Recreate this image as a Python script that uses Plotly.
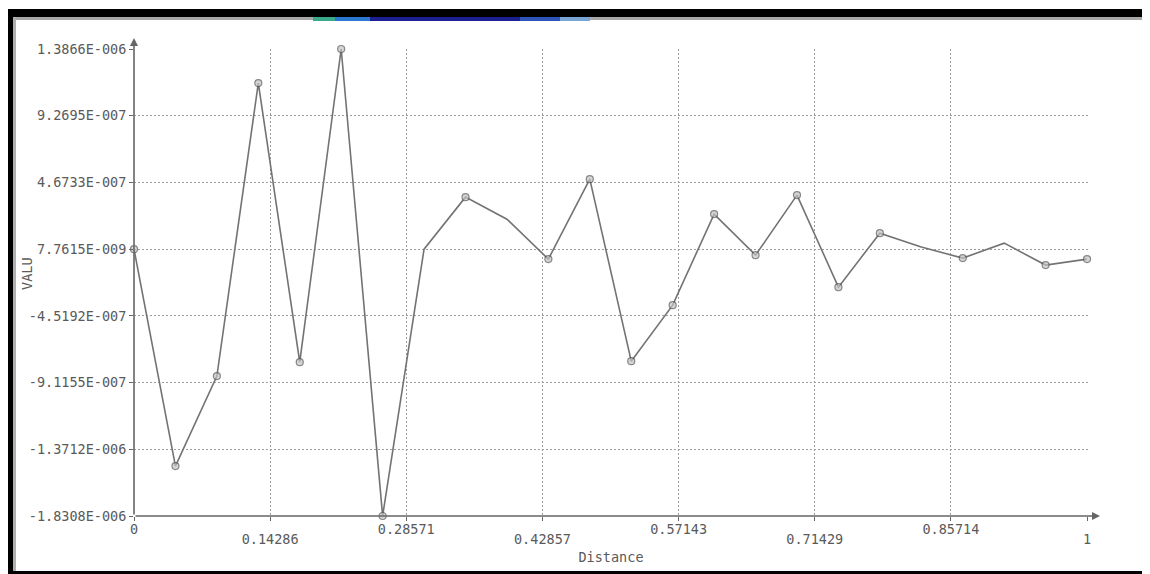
import plotly.graph_objects as go

# ---- data ----
distance = [0.0, 0.04348, 0.08696, 0.13043, 0.17391, 0.21739, 0.26087, 0.30435,
            0.34783, 0.39130, 0.43478, 0.47826, 0.52174, 0.56522, 0.60870, 0.65217,
            0.69565, 0.73913, 0.78261, 0.82609, 0.86957, 0.91304, 0.95652, 1.0]
valu = [7.76e-9, -1.487e-6, -8.67e-7, 1.1515e-6, -7.71e-7, 1.3866e-6, -1.8308e-6, 7.76e-9,
        3.66e-7, 2.14e-7, -6.1e-8, 4.90e-7, -7.64e-7, -3.78e-7, 2.49e-7, -3.35e-8,
        3.80e-7, -2.54e-7, 1.18e-7, 2.2e-8, -5.4e-8, 4.9e-8, -1.02e-7, -6.1e-8]

x_tickvals = [0, 0.14286, 0.28571, 0.42857, 0.57143, 0.71429, 0.85714, 1]
x_ticktext = ["0", "0.14286", "0.28571", "0.42857", "0.57143", "0.71429", "0.85714", "1"]
y_tickvals = [1.3866e-6, 9.2695e-7, 4.6733e-7, 7.7615e-9, -4.5192e-7, -9.1155e-7, -1.3712e-6, -1.8308e-6]
y_ticktext = ["1.3866E-006", "9.2695E-007", "4.6733E-007", "7.7615E-009",
              "-4.5192E-007", "-9.1155E-007", "-1.3712E-006", "-1.8308E-006"]
x_title = "Distance"
y_title = "VALU"

# ---- layout geometry (page pixels; the page body has an 8px margin) ----
OFF = 8
W, H = 1150 - OFF, 574 - OFF
PL, PR, PT, PB = 134, 1088, 49, 516          # plot area in page pixels
L, T = PL - OFF, PT - OFF
R, B = W - (PR - OFF), H - (PB - OFF)
PW, PH = PR - PL, PB - PT

def px(x):
    return (x - PL) / PW

def py(y):
    return (PB - y) / PH

FONT = "DejaVu Sans Mono"
FS = 13.5
TXT = "#5a5a5a"
GRID = "#9c9c9c"

# staggered x tick labels: even ones on the main axis, odd ones one row lower
row1_text = [t if i % 2 == 0 else "" for i, t in enumerate(x_ticktext)]
row2_vals = [v for i, v in enumerate(x_tickvals) if i % 2 == 1]
row2_text = [t for i, t in enumerate(x_ticktext) if i % 2 == 1]

# marker visibility (some vertices have no symbol in the reference)
marker_sizes = [7, 7, 7, 7, 7, 7, 7, 0, 7, 0, 7, 7, 7, 7, 7, 7, 7, 7, 7, 0, 7, 0, 7, 7]

fig = go.Figure()
fig.add_trace(go.Scatter(
    x=distance, y=valu, mode="lines+markers",
    line=dict(color="#737373", width=1.6),
    marker=dict(symbol="circle", size=marker_sizes, color="#c4c4c4",
                line=dict(color="#555555", width=1.2)),
    cliponaxis=False, showlegend=False, hoverinfo="x+y",
))
fig.add_trace(go.Scatter(x=[], y=[], xaxis="x2", showlegend=False, hoverinfo="skip"))

shapes = []

def rect(x0, y0, x1, y1, color):
    shapes.append(dict(type="rect", xref="paper", yref="paper",
                       x0=px(x0), x1=px(x1), y0=py(y1), y1=py(y0),
                       fillcolor=color, line=dict(width=0), layer="above"))

# window frame
rect(13, 17, 1147, 20, "#a8a8a8")
rect(13, 17, 16, 571, "#b0b0b0")
rect(1145, 17, 1147, 571, "#a0a0a0")
rect(0, 9, 1150, 17, "#000000")
rect(0, 9, 13, 574, "#000000")
rect(0, 571, 1150, 574, "#000000")
# colour strip remnant under the top bar
rect(313, 17, 335, 21, "#3aa88a")
rect(335, 17, 370, 21, "#2a78d0")
rect(370, 17, 520, 21, "#1c2090")
rect(520, 17, 560, 21, "#2d55b8")
rect(560, 17, 590, 21, "#79a4d6")

annotations = [
    # y axis with arrow
    dict(x=0, y=py(38), xref="paper", yref="paper", ax=0, ay=PB - 38,
         axref="pixel", ayref="pixel", text="", showarrow=True,
         arrowhead=2, arrowsize=1, arrowwidth=1.6, arrowcolor="#666666"),
    # x axis with arrow
    dict(x=px(1100), y=0, xref="paper", yref="paper", ax=-(1100 - PL), ay=0,
         axref="pixel", ayref="pixel", text="", showarrow=True,
         arrowhead=2, arrowsize=1, arrowwidth=1.6, arrowcolor="#666666"),
    # y axis title (vertical, left of the tick labels)
    dict(x=px(27), y=py(274), xref="paper", yref="paper", text=y_title, textangle=-90,
         showarrow=False, xanchor="center", yanchor="middle",
         font=dict(family=FONT, size=FS, color=TXT)),
]

xrange = [0, 1.001]
fig.update_layout(
    width=W, height=H,
    margin=dict(l=L, r=R, t=T, b=B, autoexpand=False),
    paper_bgcolor="white", plot_bgcolor="white",
    font=dict(family=FONT, size=FS, color=TXT),
    shapes=shapes, annotations=annotations,
    xaxis=dict(
        range=xrange, tickmode="array", tickvals=x_tickvals, ticktext=row1_text,
        showgrid=True, gridcolor=GRID, griddash="2px,2px", gridwidth=1,
        zeroline=False, showline=False,
        ticks="outside", ticklen=4, tickwidth=1, tickcolor="#666666",
        tickangle=0, tickfont=dict(family=FONT, size=FS, color=TXT),
        ticklabelstandoff=-3,
        title=dict(text=x_title, font=dict(family=FONT, size=FS, color=TXT), standoff=16),
        automargin=False,
    ),
    xaxis2=dict(
        range=xrange, overlaying="x", anchor="y", side="bottom",
        tickmode="array", tickvals=row2_vals, ticktext=row2_text,
        showgrid=False, zeroline=False, showline=False, ticks="",
        tickangle=0, tickfont=dict(family=FONT, size=FS, color=TXT),
        ticklabelstandoff=13, automargin=False,
    ),
    yaxis=dict(
        range=[-1.8308e-6, 1.3866e-6], tickmode="array", tickvals=y_tickvals, ticktext=y_ticktext,
        showgrid=True, gridcolor=GRID, griddash="2px,2px", gridwidth=1,
        zeroline=False, showline=False,
        ticks="outside", ticklen=4, tickwidth=1, tickcolor="#666666",
        tickfont=dict(family=FONT, size=FS, color=TXT),
        automargin=False,
    ),
)

fig.write_html("out.html")
